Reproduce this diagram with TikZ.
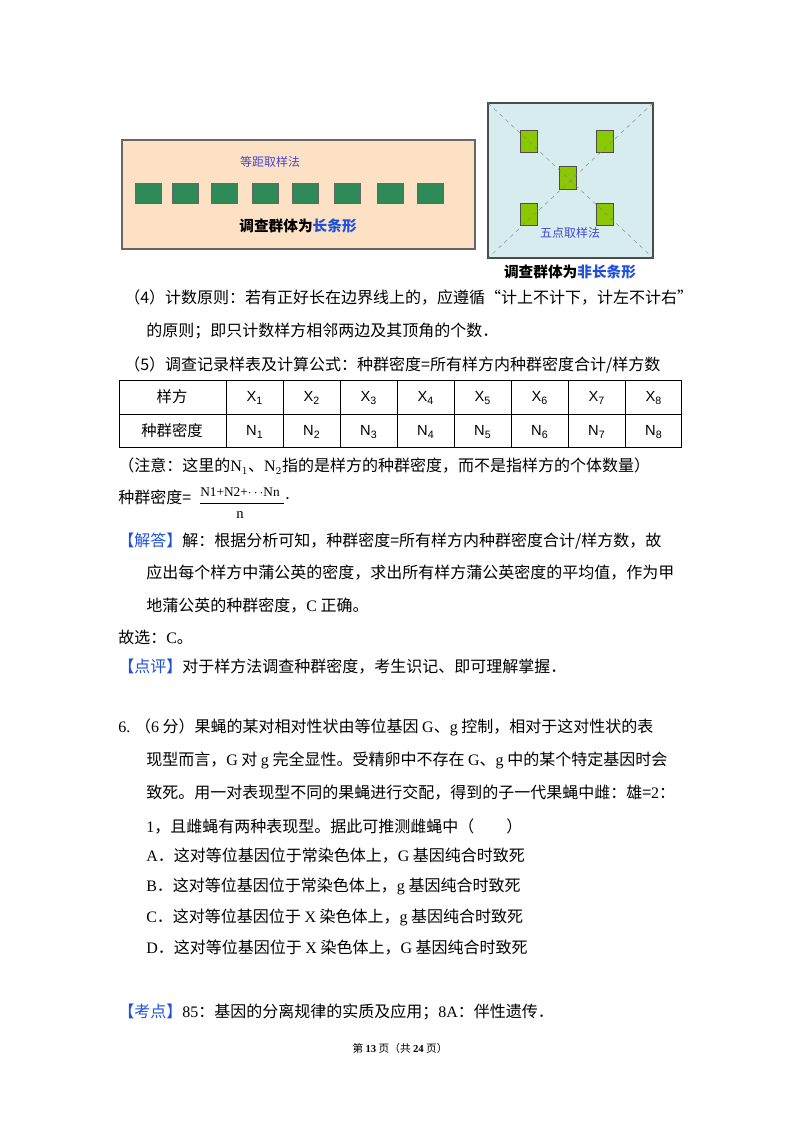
\documentclass[tikz,border=0pt]{standalone}
\usepackage{fontspec}
\setmainfont{Noto Sans CJK SC}
\newfontfamily\lat{Liberation Serif}
\newfontfamily\lsans{Liberation Sans}
\definecolor{peach}{RGB}{253,225,196}
\definecolor{sq}{RGB}{46,139,87}
\definecolor{lime}{RGB}{140,200,0}
\definecolor{lblue}{RGB}{215,236,238}
\definecolor{tblue}{RGB}{70,70,210}
\definecolor{bblue}{RGB}{30,80,220}
\begin{document}
\begin{tikzpicture}[x=0.75pt,y=-0.75pt,
  t/.style={anchor=west,inner sep=0pt,font=\fontsize{12pt}{14pt}\selectfont},
  c/.style={inner sep=0pt,font=\fontsize{11.5pt}{14pt}\selectfont},
  gs/.style={fill=sq,draw=black!60,line width=0.4pt},
  ls/.style={fill=lime,draw=black!70,line width=0.5pt}]
\useasboundingbox (0,0) rectangle (800,1132);
% left box
\draw[fill=peach,draw=black!60,line width=0.8pt] (122,140) rectangle (475,249);
\node[c,text=tblue,font=\fontsize{9pt}{10pt}\selectfont] (t1) at (270,162) {等距取样法};
\foreach \x in {135,172,211,252,292,334,377,417}
  \draw[gs] (\x,183) rectangle ++(26,20);
\node[c,font=\fontsize{11pt}{12pt}\bfseries] (t2) at (298,226) {调查群体为\textcolor{bblue}{长条形}};
% right box
\draw[fill=lblue,draw=black!70,line width=1pt] (488,103) rectangle (653,258);
\draw[ls] (520,130) rectangle (537,152);
\draw[ls] (596,130) rectangle (613,152);
\draw[ls] (559,166) rectangle (576,189);
\draw[ls] (520,203) rectangle (537,225);
\draw[ls] (596,203) rectangle (613,225);
\draw[black!50,dashed,line width=0.3pt] (488,103) -- (653,258) (653,103) -- (488,258);
\node[c,text=tblue,font=\fontsize{9pt}{10pt}\selectfont] (t3) at (570,233) {五点取样法};
\node[c,font=\fontsize{11pt}{12pt}\bfseries] (t4) at (570,272) {调查群体为\textcolor{bblue}{非长条形}};
% text
\node[t] (l1) at (124,298) {（4）计数原则：若有正好长在边界线上的，应遵循“计上不计下，计左不计右”};
\node[t] (l2) at (146,331) {的原则；即只计数样方相邻两边及其顶角的个数．};
\node[t] (l3) at (124,365) {（5）调查记录样表及计算公式：种群密度=所有样方内种群密度合计/样方数};
% table
\draw[line width=0.6pt] (119,380) rectangle (681,447);
\draw[line width=0.6pt] (119,414) -- (681,414);
\foreach \i in {0,...,7} \draw[line width=0.6pt] (226+57*\i,380) -- (226+57*\i,447);
\node[c] (h1) at (172,397) {样方};
\node[c] (h2) at (172,431) {种群密度};
\foreach \i in {1,...,8} {
  \node[c,font=\lsans\fontsize{11pt}{12pt}\selectfont] (x\i) at (226+57*\i-28.5,398) {X\raisebox{-0.4ex}{\fontsize{8pt}{9pt}\selectfont\i}};
  \node[c,font=\lsans\fontsize{11pt}{12pt}\selectfont] (n\i) at (226+57*\i-28.5,432) {N\raisebox{-0.4ex}{\fontsize{8pt}{9pt}\selectfont\i}};
}
\node[t] (l4) at (118,466) {（注意：这里的{\lat N$_1$}、{\lat N$_2$}指的是样方的种群密度，而不是指样方的个体数量）};
\node[t] (l5) at (118,497) {种群密度=};
\node[c,anchor=west,font=\lat\fontsize{10pt}{11pt}\selectfont] (num) at (200,492) {N1+N2+$\cdots$Nn};
\draw[line width=0.5pt] (200,503) -- (284,503);
\node[c,font=\lat\fontsize{11pt}{12pt}\selectfont] (den) at (240,515) {n};
\node[t] (dot) at (285,499) {.};
\node[t] (l6) at (118,541) {\textcolor{bblue}{【解答】}解：根据分析可知，种群密度=所有样方内种群密度合计/样方数，故};
\node[t] (l7) at (146,573) {应出每个样方中蒲公英的密度，求出所有样方蒲公英密度的平均值，作为甲};
\node[t] (l8) at (146,606) {地蒲公英的种群密度，{\lat C} 正确。};
\node[t] (l9) at (118,637) {故选：{\lat C}。};
\node[t] (l10) at (118,667) {\textcolor{bblue}{【点评】}对于样方法调查种群密度，考生识记、即可理解掌握．};
\node[t] (q0) at (118,727) {{\lat 6.} （{\lat 6} 分）果蝇的某对相对性状由等位基因 {\lat G}、{\lat g} 控制，相对于这对性状的表};
\node[t] (q1) at (146,760) {现型而言，{\lat G} 对 {\lat g} 完全显性。受精卵中不存在 {\lat G}、{\lat g} 中的某个特定基因时会};
\node[t] (q2) at (146,793) {致死。用一对表现型不同的果蝇进行交配，得到的子一代果蝇中雌：雄={\lat 2}：};
\node[t] (q3) at (146,826) {{\lat 1}，且雌蝇有两种表现型。据此可推测雌蝇中（\quad\quad）};
\node[t] (qa) at (146,856) {{\lat A}．这对等位基因位于常染色体上，{\lat G} 基因纯合时致死};
\node[t] (qb) at (146,886) {{\lat B}．这对等位基因位于常染色体上，{\lat g} 基因纯合时致死};
\node[t] (qc) at (146,917) {{\lat C}．这对等位基因位于 {\lat X} 染色体上，{\lat g} 基因纯合时致死};
\node[t] (qd) at (146,948) {{\lat D}．这对等位基因位于 {\lat X} 染色体上，{\lat G} 基因纯合时致死};
\node[t] (kd) at (118,1012) {\textcolor{bblue}{【考点】}{\lat 85}：基因的分离规律的实质及应用；{\lat 8A}：伴性遗传．};
\node[c,font=\fontsize{8pt}{9pt}\selectfont] (ft) at (400,1048) {第 {\bfseries\lat 13} 页（共 {\bfseries\lat 24} 页）};
\end{tikzpicture}
\end{document}
